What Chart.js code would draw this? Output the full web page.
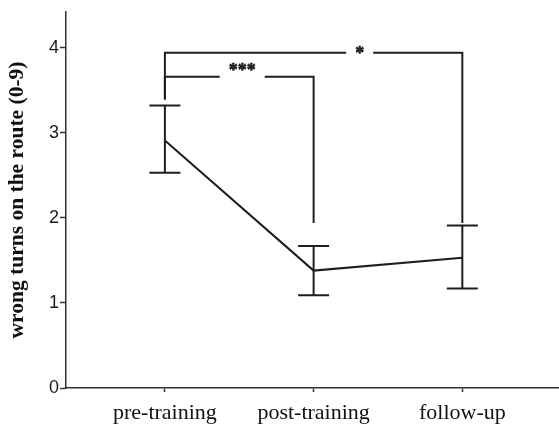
<!DOCTYPE html>
<html>
<head>
<meta charset="utf-8">
<script src="https://cdn.jsdelivr.net/npm/chart.js@4.4.1/dist/chart.umd.min.js"></script>
<style>
  html, body { margin: 0; padding: 0; background: #fff; }
  #wrap { width: 559px; height: 426px; }
</style>
</head>
<body>
<div id="wrap"><canvas id="c" width="559" height="426"></canvas></div>
<script>
// Wrong turns on the route, mean with error bars per session
const categories = ['pre-training', 'post-training', 'follow-up'];
const means = [2.91, 1.38, 1.53];
const upper = [3.32, 1.67, 1.91];
const lower = [2.53, 1.09, 1.17];
const yTicks = [0, 1, 2, 3, 4];

// Significance brackets (x in category index, y in data units)
const bracketFrom = [0, 0];
const bracketTo = [1, 2];
const bracketLevel = [3.66, 3.94];
const bracketLeftEnd = [3.39, 3.39];
const bracketRightEnd = [1.94, 1.94];
const bracketLabels = ['***', '*'];
const bracketLabelX = [0.52, 1.31];
const bracketLabelY = [3.77, 3.97];

const INK = '#1e1e1e';

const overlay = {
  id: 'overlay',
  afterDatasetsDraw(chart) {
    const { ctx, scales: { x, y } } = chart;
    ctx.save();
    ctx.strokeStyle = INK;
    ctx.lineWidth = 2;
    ctx.lineCap = 'butt';
    // error bars
    const cap = 15.5;
    for (let i = 0; i < means.length; i++) {
      const px = x.getPixelForValue(i);
      const yt = y.getPixelForValue(upper[i]);
      const yb = y.getPixelForValue(lower[i]);
      ctx.beginPath();
      ctx.moveTo(px, yt); ctx.lineTo(px, yb);
      ctx.moveTo(px - cap, yt); ctx.lineTo(px + cap, yt);
      ctx.moveTo(px - cap, yb); ctx.lineTo(px + cap, yb);
      ctx.stroke();
    }
    // brackets
    ctx.font = 'bold 18px "Liberation Serif", serif';
    ctx.fillStyle = INK;
    ctx.textAlign = 'center';
    ctx.textBaseline = 'alphabetic';
    for (let k = 0; k < bracketLabels.length; k++) {
      const x0 = x.getPixelForValue(bracketFrom[k]);
      const x1 = x.getPixelForValue(bracketTo[k]);
      const yl = y.getPixelForValue(bracketLevel[k]);
      const lx = x.getPixelForValue(bracketLabelX[k]);
      const m = ctx.measureText(bracketLabels[k]);
      const half = m.width / 2 + 9;
      ctx.beginPath();
      ctx.moveTo(x0, y.getPixelForValue(bracketLeftEnd[k]));
      ctx.lineTo(x0, yl);
      ctx.lineTo(lx - half, yl);
      ctx.moveTo(lx + half, yl);
      ctx.lineTo(x1, yl);
      ctx.lineTo(x1, y.getPixelForValue(bracketRightEnd[k]));
      ctx.stroke();
      const ly = y.getPixelForValue(bracketLabelY[k]);
      const asc = m.actualBoundingBoxAscent, desc = m.actualBoundingBoxDescent;
      ctx.fillText(bracketLabels[k], lx, ly + (asc - desc) / 2);
      ctx.lineWidth = 0.6;
      ctx.strokeText(bracketLabels[k], lx, ly + (asc - desc) / 2);
      ctx.lineWidth = 2;
    }
    ctx.restore();
  }
};

new Chart(document.getElementById('c'), {
  type: 'line',
  data: {
    datasets: [{
      data: means.map((v, i) => ({ x: i, y: v })),
      borderColor: INK,
      borderWidth: 2,
      pointRadius: 0,
      tension: 0,
      fill: false
    }]
  },
  options: {
    responsive: false,
    animation: false,
    events: [],
    layout: { padding: { top: 12, right: 0, left: 0, bottom: 0 } },
    plugins: { legend: { display: false }, tooltip: { enabled: false } },
    scales: {
      x: {
        type: 'linear',
        min: -0.665,
        max: 2.65,
        afterBuildTicks(scale) { scale.ticks = categories.map((c, i) => ({ value: i })); },
        afterFit(scale) { scale.height = 38; },
        ticks: {
          callback: (v) => categories[v],
          font: { family: '"Liberation Serif", serif', size: 22 },
          color: '#111',
          padding: 8,
          maxRotation: 0,
          autoSkip: false
        },
        grid: { drawOnChartArea: false, drawTicks: true, tickLength: 4, tickColor: '#333', tickWidth: 1.5 },
        border: { display: true, color: '#333', width: 1.5 }
      },
      y: {
        min: 0,
        max: 4.42,
        afterBuildTicks(scale) { scale.ticks = yTicks.map(v => ({ value: v })); },
        afterFit(scale) { scale.width = 66; },
        ticks: {
          font: { family: '"Liberation Sans", sans-serif', size: 18 },
          color: '#1a1a1a',
          padding: 1
        },
        grid: { drawOnChartArea: false, drawTicks: true, tickLength: 6, tickColor: '#333', tickWidth: 1.5 },
        border: { display: true, color: '#333', width: 1.5 },
        title: {
          display: true,
          text: 'wrong turns on the route (0-9)',
          font: { family: '"Liberation Serif", serif', size: 21.5, weight: 'bold' },
          color: '#111',
          padding: { top: 5, bottom: 0 }
        }
      }
    }
  },
  plugins: [overlay]
});
</script>
</body>
</html>
